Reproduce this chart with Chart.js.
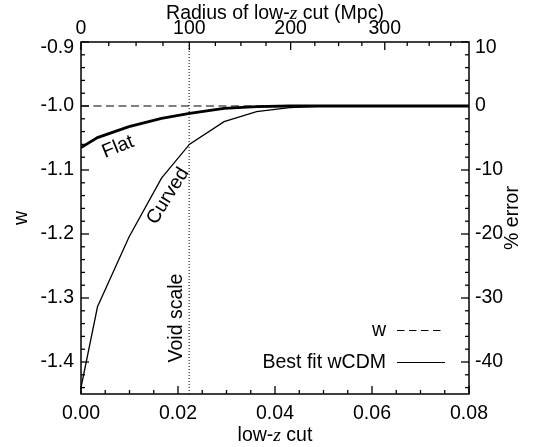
<!DOCTYPE html>
<html>
<head>
<meta charset="utf-8">
<script src="https://cdn.jsdelivr.net/npm/chart.js@4.4.1/dist/chart.umd.min.js"></script>
<style>
  html, body { margin: 0; padding: 0; background: #fff; }
  #wrap { width: 535px; height: 447px; }
</style>
</head>
<body>
<div id="wrap"><canvas id="w-chart" width="535" height="447"></canvas></div>
<script>
// low-z cut values and fitted w for the two models
const zCut    = [0, 0.0034, 0.0099, 0.0166, 0.0224, 0.0295, 0.0362, 0.043, 0.05, 0.06, 0.07, 0.08];
const wFlat   = [-1.065, -1.0494, -1.0323, -1.0192, -1.0114, -1.0036, -1.001, -1.0, -1.0, -1.0, -1.0, -1.0];
const wCurved = [-1.44, -1.3137, -1.2046, -1.1127, -1.0597, -1.0245, -1.0089, -1.0026, -1.0, -1.0, -1.0, -1.0];
const wTrue = -1.0;
const voidScaleZ = 0.0223;

// axis ticks
const zTicks = [0, 0.02, 0.04, 0.06, 0.08];
const zTickLabels = ['0.00', '0.02', '0.04', '0.06', '0.08'];
const wTicks = [-0.9, -1.0, -1.1, -1.2, -1.3, -1.4];
const wTickLabels = ['-0.9', '-1.0', '-1.1', '-1.2', '-1.3', '-1.4'];
const errTicks = [10, 0, -10, -20, -30, -40];
const errTickLabels = ['10', '0', '-10', '-20', '-30', '-40'];
const radiusTicks = [0, 100, 200, 300];
const radiusTickLabels = ['0', '100', '200', '300'];

const FONT = '"Liberation Sans", Arial, Helvetica, sans-serif';
const ZFONT = 'italic 19.5px "Liberation Serif", "DejaVu Serif", serif';

// comoving radius (Mpc) -> redshift
function radiusToZ(r) {
    return 2.308e-4 * r - 7.34e-8 * r * r;
}

function pts(ys) {
    return zCut.map((z, i) => ({ x: z, y: ys[i] }));
}

// draws text pieces, with an italic z, starting from x
function mixedText(ctx, parts, x, y, align) {
    let total = 0;
    parts.forEach(p => { ctx.font = p[1]; total += ctx.measureText(p[0]).width; });
    let cx = align === 'center' ? x - total / 2 : x;
    ctx.textAlign = 'left';
    parts.forEach(p => {
        ctx.font = p[1];
        ctx.fillText(p[0], cx, y);
        cx += ctx.measureText(p[0]).width;
    });
}

const idlAxes = {
    id: 'idlAxes',
    afterDraw(chart) {
        const ctx = chart.ctx;
        const a = chart.chartArea;
        const xs = chart.scales.x, ys = chart.scales.y, es = chart.scales.y2;
        const font = '19.5px ' + FONT;
        ctx.save();
        ctx.strokeStyle = '#000';
        ctx.fillStyle = '#000';
        ctx.lineWidth = 1.5;
        ctx.strokeRect(a.left, a.top, a.right - a.left, a.bottom - a.top);

        ctx.lineWidth = 1.3;
        function tick(x1, y1, x2, y2) {
            ctx.beginPath(); ctx.moveTo(x1, y1); ctx.lineTo(x2, y2); ctx.stroke();
        }
        // bottom: low-z cut
        for (let i = 0; i <= 16; i++) {
            const v = i * 0.005;
            const px = xs.getPixelForValue(v);
            tick(px, a.bottom, px, a.bottom - (i % 4 === 0 ? 8 : 4));
        }
        // top: radius
        for (let r = 0; r <= 375; r += 25) {
            const px = xs.getPixelForValue(radiusToZ(r));
            tick(px, a.top, px, a.top + (r % 100 === 0 ? 8 : 4));
        }
        // left: w
        for (let i = 0; i <= 27; i++) {
            const v = -0.9 - i * 0.02;
            const py = ys.getPixelForValue(v);
            tick(a.left, py, a.left + (i % 5 === 0 ? 8 : 4), py);
        }
        // right: % error
        for (let i = 0; i <= 27; i++) {
            const v = 10 - i * 2;
            const py = es.getPixelForValue(v);
            tick(a.right, py, a.right - (i % 5 === 0 ? 8 : 4), py);
        }

        // tick labels
        ctx.font = font;
        ctx.textAlign = 'center';
        ctx.textBaseline = 'alphabetic';
        zTicks.forEach((v, i) => ctx.fillText(zTickLabels[i], xs.getPixelForValue(v), 419));
        radiusTicks.forEach((r, i) => ctx.fillText(radiusTickLabels[i], xs.getPixelForValue(radiusToZ(r)), 34));
        ctx.textBaseline = 'middle';
        ctx.textAlign = 'right';
        wTicks.forEach((v, i) => ctx.fillText(wTickLabels[i], 74, Math.max(ys.getPixelForValue(v), a.top + 6)));
        ctx.textAlign = 'left';
        errTicks.forEach((v, i) => ctx.fillText(errTickLabels[i], 475, Math.max(es.getPixelForValue(v), a.top + 6)));

        // axis titles
        ctx.textBaseline = 'alphabetic';
        mixedText(ctx, [['Radius of low-', font], ['z', ZFONT], [' cut (Mpc)', font]], (a.left + a.right) / 2, 19, 'center');
        mixedText(ctx, [['low-', font], ['z', ZFONT], [' cut', font]], (a.left + a.right) / 2, 441, 'center');
        ctx.font = font;
        ctx.textAlign = 'center';
        ctx.textBaseline = 'middle';
        [['w', 22], ['% error', 513]].forEach(t => {
            ctx.save();
            ctx.translate(t[1], (a.top + a.bottom) / 2);
            ctx.rotate(-Math.PI / 2);
            ctx.fillText(t[0], 0, 0);
            ctx.restore();
        });

        // curve labels
        [['Flat', 118, 147, -22], ['Curved', 168, 196, -58], ['Void scale', 177, 318, -90]].forEach(t => {
            ctx.save();
            ctx.translate(t[1], t[2]);
            ctx.rotate(t[3] * Math.PI / 180);
            ctx.fillText(t[0], 0, 0);
            ctx.restore();
        });

        // legend
        ctx.textAlign = 'right';
        ctx.textBaseline = 'alphabetic';
        ctx.fillText('w', 386, 336);
        ctx.fillText('Best fit wCDM', 386, 368);
        ctx.lineWidth = 1.2;
        ctx.setLineDash([7.5, 4.5]);
        tick(397, 330.5, 441, 330.5);
        ctx.setLineDash([]);
        tick(397, 362.5, 445, 362.5);
        ctx.restore();
    }
};

new Chart(document.getElementById('w-chart'), {
    type: 'line',
    data: {
        datasets: [{
            label: 'w',
            data: [{ x: 0, y: wTrue }, { x: 0.08, y: wTrue }],
            borderColor: '#000',
            borderWidth: 1.2,
            borderDash: [8, 4.5],
            pointRadius: 0,
            order: 3
        }, {
            label: 'Void scale',
            data: [{ x: voidScaleZ, y: -1.45 }, { x: voidScaleZ, y: -0.9 }],
            borderColor: '#000',
            borderWidth: 1,
            borderDash: [1, 2],
            pointRadius: 0,
            order: 2
        }, {
            label: 'Curved',
            data: pts(wCurved),
            borderColor: '#000',
            borderWidth: 1.3,
            pointRadius: 0,
            tension: 0,
            order: 1
        }, {
            label: 'Flat',
            data: pts(wFlat),
            borderColor: '#000',
            borderWidth: 2.8,
            pointRadius: 0,
            tension: 0,
            order: 0
        }]
    },
    options: {
        responsive: false,
        animation: false,
        layout: {
            padding: { left: 81, right: 66, top: 42, bottom: 53 }
        },
        plugins: {
            legend: { display: false },
            tooltip: { enabled: false }
        },
        scales: {
            x: { type: 'linear', min: 0, max: 0.08, display: false },
            y: { min: -1.45, max: -0.9, display: false },
            y2: { position: 'right', min: -45, max: 10, display: false }
        }
    },
    plugins: [idlAxes]
});
</script>
</body>
</html>
